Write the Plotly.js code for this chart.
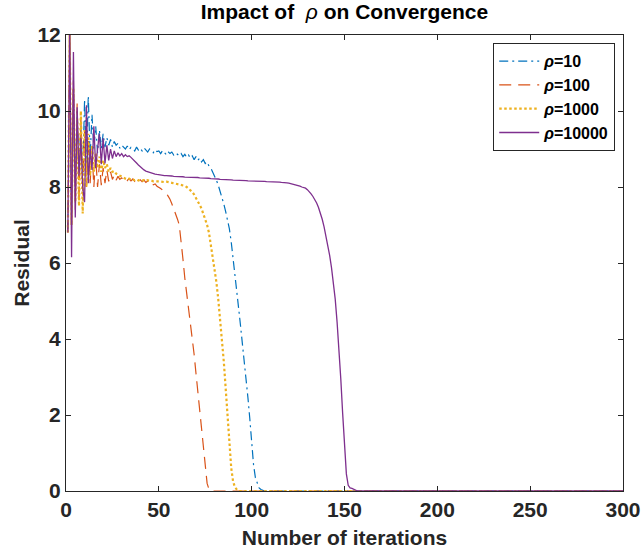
<!DOCTYPE html>
<html><head><meta charset="utf-8">
<script src="https://cdn.plot.ly/plotly-3.0.1.min.js"></script>
<style>html,body{margin:0;padding:0;background:#fff}#chart{width:642px;height:550px}</style>
</head><body><div id="chart"></div>
<script>
// Series labels
const seriesNames = ['<i>ρ</i>=10', '<i>ρ</i>=100', '<i>ρ</i>=1000', '<i>ρ</i>=10000'];
const xTicks = [0, 50, 100, 150, 200, 250, 300];
const yTicks = [0, 2, 4, 6, 8, 10, 12];
const lastIteration = 300;

// Residual per iteration (iteration 1, 2, 3, ...)
const rho10 = [
  6.9, 11.0, 7.3, 10.2, 8.0, 10.0, 8.5, 9.6, 8.3, 10.3,
  8.6, 10.4, 8.8, 9.9, 9.0, 9.6, 8.9, 9.5, 9.0, 9.4,
  9.05, 9.3, 9.1, 9.25, 9.05, 9.2, 9.1, 9.15, 9.02, 9.1,
  9.05, 9.0, 9.08, 8.98, 9.04, 9.0, 8.95, 9.05, 8.97, 9.02,
  8.95, 9.03, 8.98, 8.92, 9.0, 8.96, 8.9, 8.98, 8.93, 8.95,
  8.88, 8.96, 8.9, 8.85, 8.93, 8.88, 8.92, 8.84, 8.9, 8.86,
  8.82, 8.88, 8.8, 8.86, 8.78, 8.84, 8.76, 8.82, 8.72, 8.8,
  8.7, 8.76, 8.66, 8.72, 8.62, 8.66, 8.55, 8.5, 8.4, 8.3,
  8.18, 8.05, 7.9, 7.75, 7.55, 7.35, 7.15, 6.9, 6.55, 6.15,
  5.7, 5.25, 4.8, 4.35, 3.9, 3.4, 2.95, 2.45, 1.9, 1.3,
  0.7, 0.35, 0.18, 0.08, 0.04, 0.02, 0
];
const rho100 = [
  6.8, 11.8, 7.0, 10.8, 7.4, 10.2, 7.6, 9.8, 7.9, 9.5,
  8.0, 9.3, 8.1, 9.0, 8.0, 8.8, 8.0, 8.6, 8.05, 8.5,
  8.1, 8.45, 8.15, 8.4, 8.2, 8.32, 8.18, 8.28, 8.2, 8.24,
  8.18, 8.23, 8.17, 8.22, 8.16, 8.21, 8.15, 8.2, 8.14, 8.19,
  8.14, 8.18, 8.12, 8.16, 8.1, 8.13, 8.06, 8.08, 8.02, 8.0,
  7.96, 7.92, 7.89, 7.84, 7.76, 7.68, 7.56, 7.44, 7.3, 7.16,
  7.0, 6.6, 6.1, 5.6, 5.2, 4.85, 4.55, 4.1, 3.6, 3.1,
  2.6, 2.1, 1.6, 1.1, 0.6, 0.2, 0.05, 0
];
const rho1000 = [
  6.8, 12.0, 7.0, 10.6, 7.6, 9.8, 7.5, 10.0, 7.3, 9.5,
  8.0, 9.4, 8.3, 9.1, 8.4, 8.9, 8.5, 8.8, 8.4, 8.7,
  8.5, 8.6, 8.4, 8.5, 8.4, 8.42, 8.35, 8.32, 8.3, 8.26,
  8.24, 8.22, 8.2, 8.22, 8.19, 8.2, 8.18, 8.2, 8.17, 8.19,
  8.17, 8.18, 8.16, 8.18, 8.16, 8.17, 8.15, 8.16, 8.15, 8.15,
  8.14, 8.15, 8.13, 8.14, 8.12, 8.12, 8.11, 8.1, 8.09, 8.08,
  8.07, 8.06, 8.05, 8.03, 8.0, 7.96, 7.92, 7.87, 7.8, 7.72,
  7.63, 7.53, 7.43, 7.3, 7.15, 7.0, 6.8, 6.5, 6.2, 5.85,
  5.5, 5.05, 4.55, 4.05, 3.4, 2.7, 1.9, 1.2, 0.6, 0.25,
  0.1, 0.04, 0
];
const rho10000 = [
  6.8, 12.5, 6.15, 11.55, 7.2, 10.1, 8.3, 9.3, 8.0, 7.6,
  10.15, 8.1, 9.0, 8.45, 9.6, 8.5, 9.0, 9.4, 8.6, 9.28,
  8.62, 9.1, 8.7, 9.0, 8.75, 8.95, 8.8, 8.9, 8.82, 8.88,
  8.8, 8.85, 8.8, 8.82, 8.78, 8.72, 8.68, 8.63, 8.58, 8.53,
  8.49, 8.45, 8.42, 8.4, 8.38, 8.36, 8.35, 8.34, 8.33, 8.32,
  8.31, 8.31, 8.3, 8.3, 8.3, 8.29, 8.29, 8.28, 8.28, 8.28,
  8.27, 8.27, 8.27, 8.26, 8.26, 8.26, 8.26, 8.25, 8.25, 8.25,
  8.25, 8.24, 8.24, 8.24, 8.23, 8.23, 8.23, 8.22, 8.22, 8.21,
  8.21, 8.21, 8.2, 8.2, 8.2, 8.2, 8.19, 8.19, 8.19, 8.18,
  8.18, 8.18, 8.18, 8.17, 8.17, 8.17, 8.17, 8.16, 8.16, 8.16,
  8.16, 8.16, 8.15, 8.15, 8.15, 8.15, 8.15, 8.14, 8.14, 8.14,
  8.14, 8.13, 8.13, 8.13, 8.13, 8.12, 8.12, 8.11, 8.11, 8.1,
  8.09, 8.08, 8.07, 8.06, 8.04, 8.02, 8.0, 7.99, 7.97, 7.93,
  7.88, 7.82, 7.75, 7.67, 7.58, 7.46, 7.32, 7.15, 6.95, 6.73,
  6.48, 6.2, 5.88, 5.5, 5.05, 4.45, 3.75, 2.95, 2.05, 1.15,
  0.45, 0.15, 0.08, 0.07, 0.04, 0.01, 0
];

const colors = ['#0072BD', '#D95319', '#EDB120', '#7E2F8E'];

function makeTrace(vals, name, color, dash, width) {
  const x = vals.map((v, i) => i + 1);
  const y = vals.slice();
  x.push(lastIteration);
  y.push(vals[vals.length - 1]);
  return {x: x, y: y, type: 'scatter', mode: 'lines', name: name,
          line: {color: color, dash: dash, width: width}};
}

const data = [
  makeTrace(rho10, seriesNames[0], colors[0], '9px,4px,2px,4px', 1.2),
  makeTrace(rho100, seriesNames[1], colors[1], '12px,7px', 1.2),
  makeTrace(rho1000, seriesNames[2], colors[2], '2.5px,2.5px', 2.2),
  makeTrace(rho10000, seriesNames[3], colors[3], 'solid', 1.3)
];

const axisCommon = {
  ticks: 'inside', ticklen: 5, tickwidth: 1, tickcolor: '#262626',
  showline: true, linecolor: '#262626', linewidth: 1, mirror: 'ticks',
  showgrid: false, zeroline: false,
  tickfont: {size: 21, weight: 'bold', color: '#262626'}
};

const layout = {
  width: 642, height: 550,
  margin: {l: 66, r: 19, t: 35, b: 59},
  paper_bgcolor: '#ffffff', plot_bgcolor: '#ffffff',
  font: {family: '"Liberation Sans", Arial, Helvetica, sans-serif', color: '#262626'},
  title: {
    text: "Impact of  <span style='font-weight:normal'><i>ρ</i></span> on Convergence",
    font: {size: 21, weight: 'bold', color: '#000000'},
    x: 0.5, xref: 'paper', xanchor: 'center',
    y: 1 - 12 / 550, yref: 'container', yanchor: 'middle'
  },
  xaxis: Object.assign({}, axisCommon, {
    range: [0, 300], tickvals: xTicks, ticktext: xTicks.map(String),
    title: {text: 'Number of iterations', font: {size: 21, weight: 'bold', color: '#262626'}, standoff: 10}
  }),
  yaxis: Object.assign({}, axisCommon, {
    range: [0, 12], tickvals: yTicks, ticktext: yTicks.map(String),
    title: {text: 'Residual', font: {size: 21, weight: 'bold', color: '#262626'}, standoff: 2}
  }),
  showlegend: true,
  legend: {
    x: 0.767, y: 0.982, xanchor: 'left', yanchor: 'top',
    bgcolor: '#ffffff', bordercolor: '#262626', borderwidth: 1,
    font: {size: 16, weight: 'bold', color: '#000000'},
    itemwidth: 40,
    tracegroupgap: 0
  }
};

Plotly.newPlot('chart', data, layout, {displayModeBar: false, staticPlot: true});
</script>
</body></html>
